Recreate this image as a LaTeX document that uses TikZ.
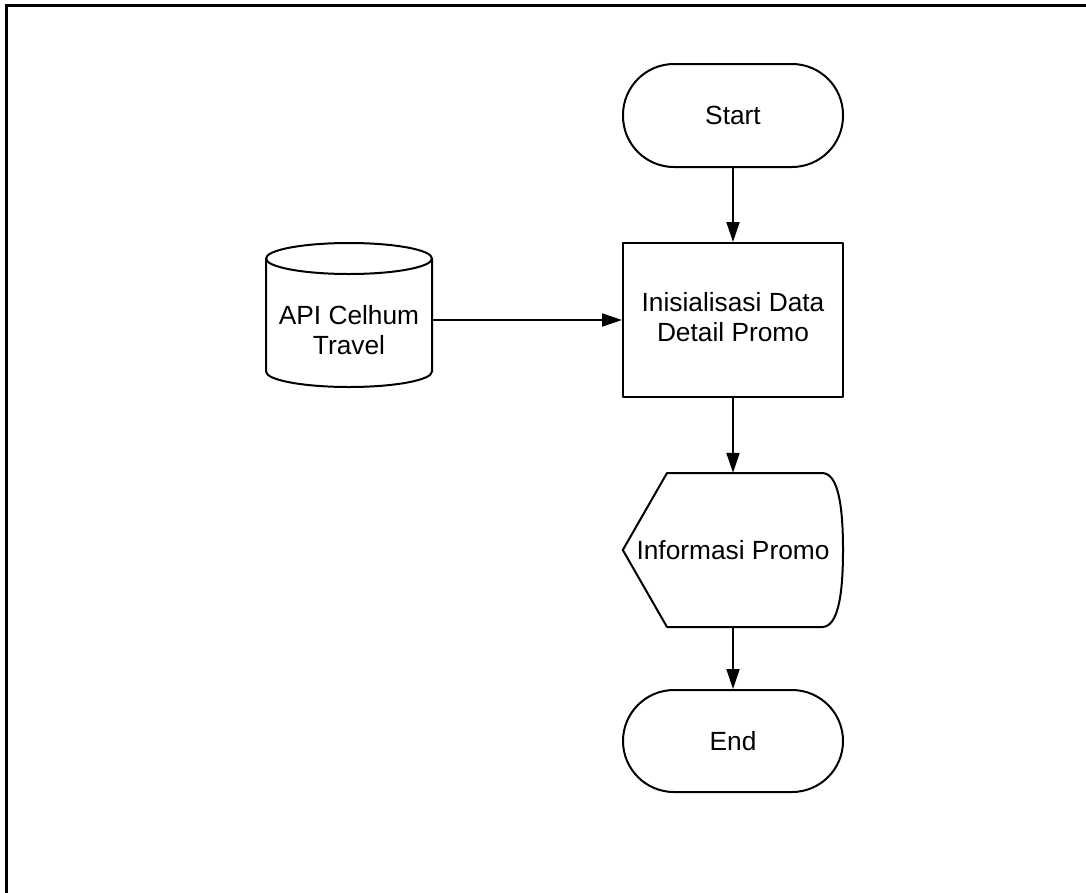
\documentclass[tikz,border=0pt]{standalone}
\usepackage{fontspec}
\setmainfont{Liberation Sans}
\usetikzlibrary{arrows.meta}

\tikzset{
  shapeline/.style={line width=2pt, line join=round},
  flowtext/.style={font=\fontsize{26.3}{30}\selectfont, align=center, inner sep=0pt},
  terminal/.style={flowtext, shapeline, draw, rectangle, rounded corners=51pt,
                   minimum width=220pt, minimum height=103pt},
  process/.style={flowtext, shapeline, draw, rectangle,
                  minimum width=220pt, minimum height=154pt},
  plainbox/.style={flowtext, draw=none, rectangle},
  flowarrow/.style={line width=2pt, -{Triangle[length=20pt,width=13pt]}},
}

\begin{document}
\begin{tikzpicture}[x=1pt, y=-1pt]
  \useasboundingbox (0,0) rectangle (1086,892);

  % outer frame (only its top and left edges fall inside the page)
  \draw[line width=3pt] (6.7,905) -- (6.7,5.5) -- (1100,5.5);

  % flow nodes
  \node[terminal] (start) at (733,115.5) {Start};
  \node[process] (init) at (733,320) {\raisebox{3pt}{\begin{tabular}{@{}c@{}}Inisialisasi Data\\Detail Promo\end{tabular}}};
  \node[plainbox, minimum width=220pt, minimum height=154pt] (disp) at (733,550) {Informasi Promo};
  \node[terminal, minimum height=102pt] (end) at (733,741) {End};
  \node[plainbox, minimum width=166pt, minimum height=144pt] (api) at (349,330) {API Celhum\\Travel};

  % display symbol outline
  \draw[shapeline]
    (disp.west) -- (667,473) -- (822,473)
    .. controls (838,473) and (843,505) .. (843,550)
    .. controls (843,595) and (838,627) .. (822,627)
    -- (667,627) -- cycle;

  % data store cylinder outline
  \draw[shapeline] (349,258.5) ellipse [x radius=83, y radius=15.5];
  \draw[shapeline]
    (266,258.5) -- (266,371.5)
    arc [start angle=180, end angle=360, x radius=83, y radius=-15.5]
    -- (432,258.5);

  % connectors
  \draw[flowarrow] (start.south) -- (init.north);
  \draw[flowarrow] (api.east |- init.west) -- (init.west);
  \draw[flowarrow] (init.south) -- (disp.north);
  \draw[flowarrow] (disp.south) -- (end.north);
\end{tikzpicture}
\end{document}
